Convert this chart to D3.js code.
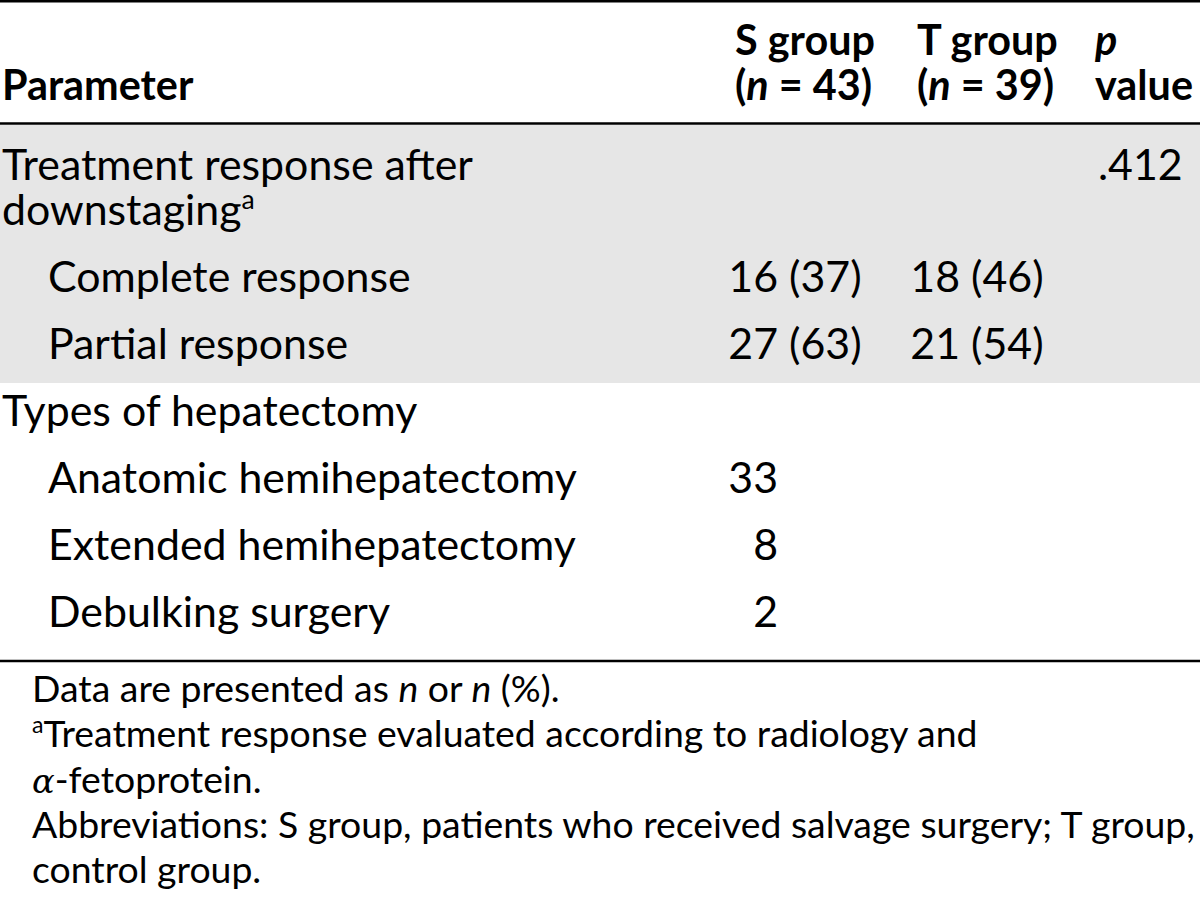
<!DOCTYPE html>
<html><head><meta charset="utf-8">
<script src="https://cdn.jsdelivr.net/npm/d3@7"></script>
<style>body{margin:0;background:#fff;} svg{display:block;}</style>
</head><body>
<svg id="chart" width="1200" height="897"></svg>
<script>
// ---------- data ----------
const parameterLines = [
  ["Treatment response after", "downstaging"],
  ["Complete response"],
  ["Partial response"],
  ["Types of hepatectomy"],
  ["Anatomic hemihepatectomy"],
  ["Extended hemihepatectomy"],
  ["Debulking surgery"]
];
const parameterSup = ["a", "", "", "", "", "", ""];
const indentLevel = [0, 1, 1, 0, 1, 1, 1];
const shadedGroup = [1, 1, 1, 0, 0, 0, 0];
const sGroupN = [null, 16, 27, null, 33, 8, 2];
const sGroupPct = [null, 37, 63, null, null, null, null];
const tGroupN = [null, 18, 21, null, null, null, null];
const tGroupPct = [null, 46, 54, null, null, null, null];
const pValues = [".412", "", "", "", "", "", ""];

const headerParameter = "Parameter";
const headerS = [[{t: "S group"}], [{t: "("}, {t: "n", i: true}, {t: " = 43)"}]];
const headerT = [[{t: "T group"}], [{t: "("}, {t: "n", i: true}, {t: " = 39)"}]];
const headerP = [[{t: "p", i: true}], [{t: "value"}]];

const footnotes = [
  [{t: "Data are presented as "}, {t: "n", i: true}, {t: " or "}, {t: "n", i: true}, {t: " (%)."}],
  [{t: "a", sup: true}, {t: "Treatment response evaluated according to radiology and"}],
  [{t: "\u03B1", i: true, serif: true}, {t: "-fetoprotein."}],
  [{t: "Abbreviations: S group, patients who received salvage surgery; T group,"}],
  [{t: "control group."}]
];

// ---------- setup ----------
const FONT = "Lato, 'Open Sans', sans-serif";
const svg = d3.select("#chart");
const W = 1200;

function fit(str, weight, target) {
  const t = svg.append("text").attr("font-family", FONT).attr("font-size", 100)
    .attr("font-weight", weight).text(str);
  const w = t.node().getComputedTextLength();
  t.remove();
  return 100 * target / w;
}
const bodySize = fit("Treatment response after", 400, 471);
const headSize = fit("S group", 700, 140);
const footSize = fit("Abbreviations: S group, patients who received salvage surgery; T group,", 400, 1163);

function richText(g, segs, x, y, size, weight, anchor) {
  const t = g.append("text").attr("x", x).attr("y", y)
    .attr("font-family", FONT).attr("font-size", size).attr("font-weight", weight)
    .attr("fill", "#000").attr("text-anchor", anchor || "start");
  let raised = false;
  segs.forEach(s => {
    const ts = t.append("tspan").text(s.t);
    if (s.i) ts.attr("font-style", "italic");
    if (s.serif) ts.attr("font-family", "'DejaVu Serif', serif").attr("font-size", size * 0.9);
    if (s.sup) { ts.attr("font-size", size * 0.62).attr("dy", -size * 0.38); raised = true; }
    else if (raised) { ts.attr("dy", size * 0.38); raised = false; }
  });
  return t;
}

// ---------- scales ----------
const rowsIdx = d3.range(parameterLines.length);
const lineStart = [];
let acc = 0;
rowsIdx.forEach(r => { lineStart.push(acc); acc += parameterLines[r].length; });
const yLine = d3.scaleLinear().domain([0, 1]).range([180, 225]);
const rowGap = 22;
const baseline = (r, k) => yLine(lineStart[r] + (k || 0)) + r * rowGap;

const x = d3.scaleOrdinal()
  .domain(["label", "indent", "sNum", "tNum", "p", "sHead", "tHead", "pHead", "foot"])
  .range([2, 48, 778, 960, 1098, 735, 917, 1095, 32]);

const yHead = d3.scaleLinear().domain([0, 1]).range([55, 100]);
const yFoot = d3.scaleLinear().domain([0, footnotes.length - 1]).range([702, 883]);

// ---------- shading ----------
const shadedRows = rowsIdx.filter(r => shadedGroup[r]);
const bandTop = 125;
const bandBottom = baseline(d3.max(shadedRows), 0) + 24;
svg.append("rect").attr("x", 0).attr("y", bandTop).attr("width", W)
  .attr("height", bandBottom - bandTop).attr("fill", "#e6e6e6");

// ---------- rules ----------
const ruleYs = [1.3, 123.5, 661];
svg.selectAll("line.rule").data(ruleYs).enter().append("line")
  .attr("class", "rule").attr("x1", 0).attr("x2", W)
  .attr("y1", d => d).attr("y2", d => d)
  .attr("stroke", "#000").attr("stroke-width", 2.6);

// ---------- header ----------
const head = svg.append("g");
richText(head, [{t: headerParameter}], x("label"), yHead(1), headSize, 700);
[[headerS, "sHead"], [headerT, "tHead"], [headerP, "pHead"]].forEach(([lines, key]) => {
  lines.forEach((segs, k) => richText(head, segs, x(key), yHead(k), headSize, 700));
});

// ---------- body ----------
const body = svg.append("g");
rowsIdx.forEach(r => {
  const lx = indentLevel[r] ? x("indent") : x("label");
  parameterLines[r].forEach((line, k) => {
    const segs = [{t: line}];
    if (k === parameterLines[r].length - 1 && parameterSup[r]) segs.push({t: parameterSup[r], sup: true});
    richText(body, segs, lx, baseline(r, k), bodySize, 400);
  });
  const y0 = baseline(r, 0);
  [[sGroupN, sGroupPct, "sNum"], [tGroupN, tGroupPct, "tNum"]].forEach(([nArr, pArr, key]) => {
    if (nArr[r] != null) {
      richText(body, [{t: String(nArr[r])}], x(key), y0, bodySize, 400, "end");
      if (pArr[r] != null) richText(body, [{t: "\u00A0(" + pArr[r] + ")"}], x(key), y0, bodySize, 400);
    }
  });
  if (pValues[r]) richText(body, [{t: pValues[r]}], x("p"), y0, bodySize, 400);
});

// ---------- footnotes ----------
const foot = svg.append("g");
footnotes.forEach((segs, i) => richText(foot, segs, x("foot"), yFoot(i), footSize, 400));
</script>
</body></html>
